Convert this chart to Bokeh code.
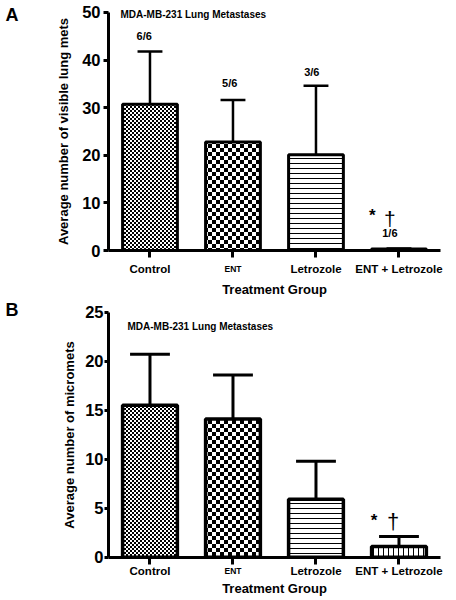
import base64
from bokeh.plotting import figure
from bokeh.models import (ColumnDataSource, Range1d, FixedTicker, Label,
                          ImageURLTexture, LinearAxis)
from bokeh.layouts import column
from bokeh.embed import file_html
from bokeh.resources import INLINE

# ---- data ----
groups = ["Control", "ENT", "Letrozole", "ENT + Letrozole"]
xpos = [1, 2, 3, 4]
a_mean = [30.7, 22.8, 20.1, 0.3]
a_sd = [11.1, 8.8, 14.5, 0.1]
a_frac = ["6/6", "5/6", "3/6", "1/6"]
b_mean = [15.5, 14.1, 5.9, 1.1]
b_sd = [5.2, 4.5, 3.9, 1.0]
a_ticks = [0, 10, 20, 30, 40, 50]
b_ticks = [0, 5, 10, 15, 20, 25]
title_text = "MDA-MB-231 Lung Metastases"

FONT = "Liberation Sans"


def svg_checker(cell):
    s = cell * 2
    svg = ('<svg xmlns="http://www.w3.org/2000/svg" width="%d" height="%d" shape-rendering="crispEdges">'
           '<rect x="0" y="0" width="%d" height="%d" fill="#000"/>'
           '<rect x="%d" y="%d" width="%d" height="%d" fill="#000"/></svg>') % (s, s, cell, cell, cell, cell, cell, cell)
    return "data:image/svg+xml;base64," + base64.b64encode(svg.encode()).decode()


textures = {
    "ckfine": ImageURLTexture(url=svg_checker(2)),
    "ckcoarse": ImageURLTexture(url=svg_checker(4)),
}


def txt(p, x, y, t, size, bold=True, align="center", baseline="middle"):
    p.add_layout(Label(x=x, y=y, text=t, text_align=align, text_baseline=baseline,
                       text_font=FONT, text_font_style="bold" if bold else "normal",
                       text_font_size=size, text_color="black"))


def make_panel(means, sds, ticks, ymax, xr, yr, patterns, scales, cap, lw,
               tick_out, tick_stand, lab_stand, xtick_stand, xlab_stand, ylabel):
    p = figure(width=456, height=300, output_backend="svg", toolbar_location=None,
               x_range=Range1d(*xr), y_range=Range1d(*yr),
               x_axis_location=None, y_axis_location=None,
               min_border=0)
    p.outline_line_color = None
    p.grid.visible = False

    tops = [m + s for m, s in zip(means, sds)]
    src = ColumnDataSource(dict(x=xpos, top=means, up=tops, pat=patterns, sc=scales,
                                xl=[x - cap for x in xpos], xr=[x + cap for x in xpos]))
    p.vbar(x="x", top="top", bottom=0, width=0.66, source=src,
           fill_color="white", line_color="black", line_width=lw,
           hatch_pattern="pat", hatch_scale="sc", hatch_weight=1,
           hatch_color="black", hatch_extra=textures)
    p.segment(x0="x", y0="top", x1="x", y1="up", source=src, line_color="black", line_width=lw - 0.5)
    p.segment(x0="xl", y0="up", x1="xr", y1="up", source=src, line_color="black", line_width=lw - 0.5)

    yax = LinearAxis(fixed_location=0.5, bounds=(0, ymax), ticker=FixedTicker(ticks=ticks),
                     axis_label=ylabel)
    xax = LinearAxis(fixed_location=0, bounds=(0.5, 4.5), ticker=FixedTicker(ticks=xpos),
                     axis_label="Treatment Group")
    for ax in (xax, yax):
        ax.axis_line_width = 3
        ax.major_tick_line_width = 3
        ax.minor_tick_line_color = None
        ax.major_tick_in = 0
        ax.major_label_text_font = FONT
        ax.major_label_text_font_style = "bold"
        ax.axis_label_text_font = FONT
        ax.axis_label_text_font_style = "bold"
        ax.axis_label_text_font_size = "13px"
        ax.axis_label_text_color = "black"
        ax.major_label_text_color = "black"
    yax.major_tick_out = tick_out
    yax.major_label_standoff = tick_stand
    yax.major_label_text_font_size = "16.5px"
    yax.axis_label_standoff = lab_stand

    xax.major_label_overrides = {1: groups[0], 2: "", 3: groups[2], 4: groups[3]}
    xax.major_tick_out = 7
    xax.major_label_standoff = xtick_stand
    xax.major_label_text_font_size = "11.5px"
    xax.axis_label_standoff = xlab_stand
    p.add_layout(yax, "left")
    p.add_layout(xax, "below")
    return p


# ---------- panel A ----------
pA = make_panel(a_mean, a_sd, a_ticks, 50, (-0.801, 4.693), (-10.5, 52.52),
                ["ckfine", "ckcoarse", "-", " "], [4, 8, 5, 5], 0.15, 3,
                5, 3, 8, 5, 4, "Average number of visible lung mets")
txt(pA, -0.741, 49.37, "A", "18px", align="left")
txt(pA, 0.645, 49.58, title_text, "10px", align="left")
txt(pA, 2, -3.78, groups[1], "8.5px")
frac_x = [0.93, 1.96, 2.95, 3.89]
frac_y = [45.0, 35.1, 37.6, 3.78]
for fx, fy, ft in zip(frac_x, frac_y, a_frac):
    txt(pA, fx, fy, ft, "11px")
txt(pA, 3.68, 7.35, "*", "17px")
txt(pA, 3.89, 6.8, "\u2020", "21px", bold=False)

# ---------- panel B ----------
pB = make_panel(b_mean, b_sd, b_ticks, 25, (-0.801, 4.693), (-4.42, 26.19),
                ["ckfine", "ckcoarse", "-", "|"], [4, 8, 5, 5], 0.24, 3.5,
                4, 1, 5, 1, 0, "Average number of micromets")
txt(pB, -0.741, 25.2, "B", "18px", align="left")
txt(pB, 0.729, 23.54, title_text, "10px", align="left")
txt(pB, 2, -1.36, groups[1], "8.5px")
txt(pB, 3.70, 3.74, "*", "17px")
txt(pB, 3.93, 3.64, "\u2020", "22px", bold=False)

layout = column(pA, pB, spacing=0)
open("out.html", "w").write(file_html(layout, INLINE))
